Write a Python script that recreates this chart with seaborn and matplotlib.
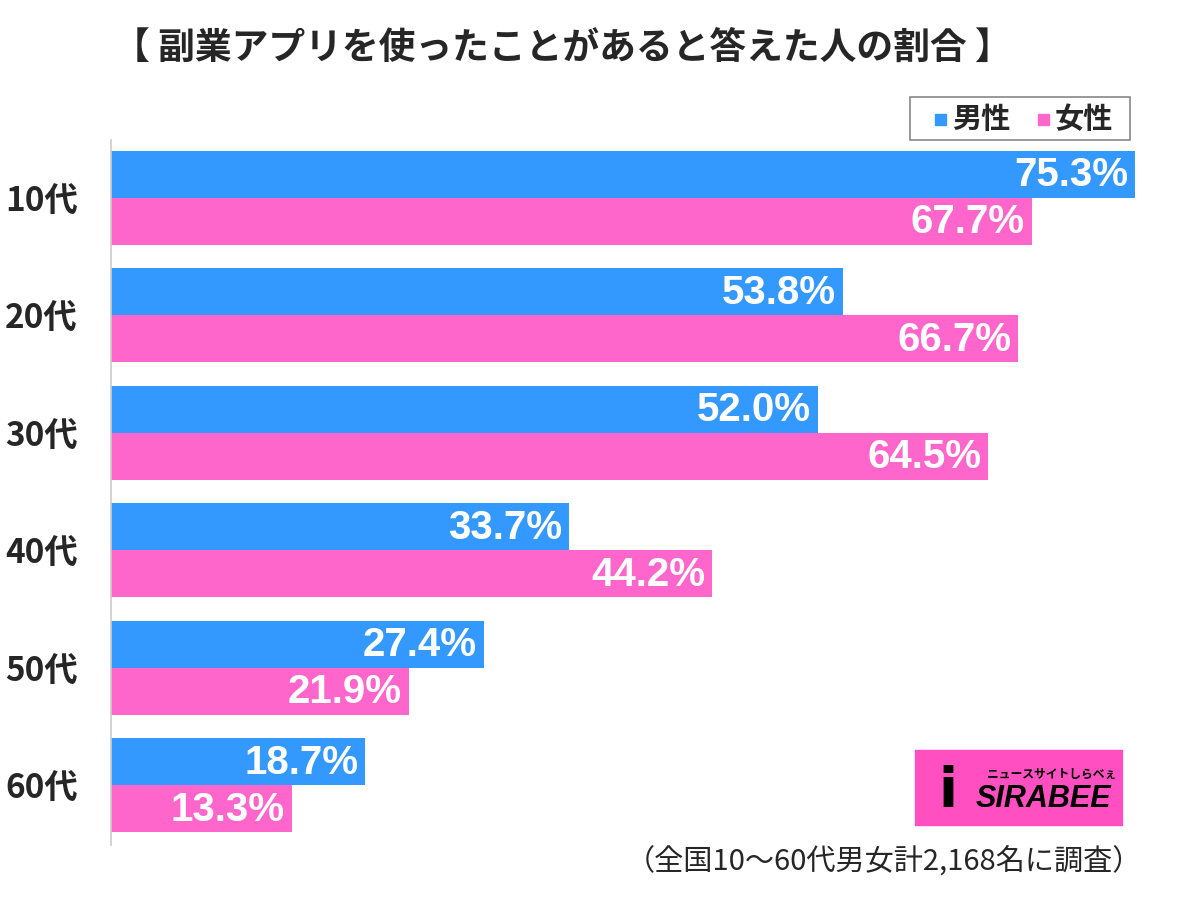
import pandas as pd
import seaborn as sns
import matplotlib.pyplot as plt
from matplotlib.patches import Rectangle

# data
ages = ['10代', '20代', '30代', '40代', '50代', '60代']
male = [75.3, 53.8, 52.0, 33.7, 27.4, 18.7]
female = [67.7, 66.7, 64.5, 44.2, 21.9, 13.3]
genders = ['男性', '女性']

blue = '#3399ff'
pink = '#ff66cc'

sns.set_style('white')
plt.rcParams['font.family'] = ['Noto Sans CJK JP', 'DejaVu Sans']

df = pd.DataFrame({
    'age': ages * 2,
    'gender': [genders[0]] * len(ages) + [genders[1]] * len(ages),
    'value': male + female,
})

fig = plt.figure(figsize=(12, 9.02), dpi=100)
ax = fig.add_axes([111 / 1200, 57 / 902, 1088 / 1200, 705 / 902])

sns.barplot(data=df, y='age', x='value', hue='gender', orient='h',
            palette=[blue, pink], width=0.8, gap=0, saturation=1,
            linewidth=0, legend=False, ax=ax)

ax.set_xlim(0, 80)
ax.set_ylim(5.51, -0.49)
ax.set_xlabel('')
ax.set_ylabel('')
ax.set_xticks([])
for s in ['top', 'right', 'bottom']:
    ax.spines[s].set_visible(False)
ax.spines['left'].set_color('#cccccc')
ax.spines['left'].set_linewidth(1.2)
ax.tick_params(axis='y', length=0, pad=24, labelsize=24)
for t in ax.get_yticklabels():
    t.set_fontweight('bold')

# value labels inside bar ends
for cont in ax.containers:
    for bar in cont:
        w = bar.get_width()
        ax.text(w - 0.5, bar.get_y() + bar.get_height() / 2 + 0.01, f'{w:.1f}%',
                ha='right', va='center', color='white', fontsize=29,
                fontweight='bold', family=['Liberation Sans', 'DejaVu Sans'])

# title
fig.text(0.469, 1 - 48 / 902, '【 副業アプリを使ったことがあると答えた人の割合 】',
         ha='center', va='center', fontsize=26.5, fontweight='bold')

# legend box
fig.patches.append(Rectangle((910 / 1200, 1 - 140 / 902), 220 / 1200, 43 / 902,
                             transform=fig.transFigure, fill=False,
                             edgecolor='#888888', linewidth=1.2))
for x0, lab, c in [(935, genders[0], blue), (1038, genders[1], pink)]:
    fig.patches.append(Rectangle((x0 / 1200, 1 - 125 / 902), 11 / 1200, 11 / 902,
                                 transform=fig.transFigure, color=c))
    fig.text((x0 + 17) / 1200, 1 - 119 / 902, lab, ha='left', va='center',
             fontsize=21, fontweight='bold')

# logo
fig.patches.append(Rectangle((915 / 1200, 1 - 825 / 902), 207 / 1200, 75 / 902,
                             transform=fig.transFigure, color='#ff4fc0'))
fig.text(1052 / 1200, 1 - 774 / 902, 'ニュースサイトしらべぇ', ha='center', va='center',
         fontsize=8.5, fontweight='bold', color='black')
fig.text(948 / 1200, 1 - 792 / 902, 'i', ha='center', va='center',
         fontsize=40, fontweight='bold', color='black', family=['DejaVu Sans'])
fig.text(1043 / 1200, 1 - 799 / 902, 'SIRABEE', ha='center', va='center',
         fontsize=22, fontweight='bold', style='italic', color='black',
         family=['Liberation Sans', 'DejaVu Sans'])

# footnote
fig.text(1142 / 1200, 1 - 862 / 902, '（全国10～60代男女計2,168名に調査）',
         ha='right', va='center', fontsize=21)

fig.savefig('out.png', dpi=100)
